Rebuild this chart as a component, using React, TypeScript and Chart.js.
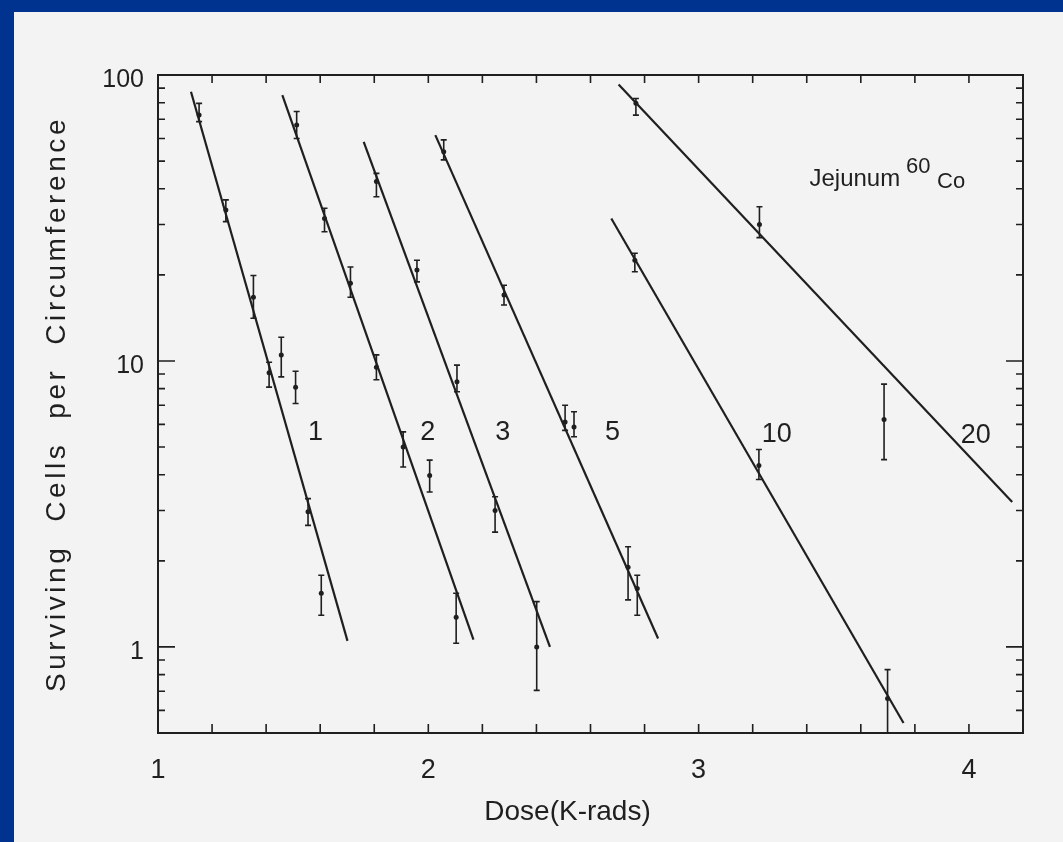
import React, { useEffect, useRef } from "react";
import { Chart, registerables } from "chart.js";

Chart.register(...registerables);

// ---- axes ----
const xMin = 1;
const xMax = 4.2;
const xMinorStep = 0.2;
const yMin = 0.5;
const yMax = 100;
const xTickLabels = [1, 2, 3, 4];
const yTickLabels = [1, 10, 100];
const xTitle = "Dose(K-rads)";
const yTitle = "Surviving  Cells  per  Circumference";

// ---- fitted survival lines (start, end) ----
const fit1X = [1.122, 1.701];
const fit1Y = [87.4, 1.05];
const fit2X = [1.46, 2.167];
const fit2Y = [85.1, 1.06];
const fit3X = [1.761, 2.45];
const fit3Y = [58.4, 1.0];
const fit5X = [2.026, 2.85];
const fit5Y = [61.6, 1.07];
const fit10X = [2.677, 3.758];
const fit10Y = [31.5, 0.542];
const fit20X = [2.704, 4.16];
const fit20Y = [92.7, 3.21];

// ---- measured points with error bars ----
const d1X = [1.152, 1.251, 1.353, 1.411, 1.456, 1.509, 1.555, 1.604];
const d1Y = [72.4, 33.7, 16.7, 9.1, 10.5, 8.1, 2.97, 1.54];
const d1Lo = [68.7, 30.7, 14.1, 8.1, 8.8, 7.1, 2.66, 1.29];
const d1Hi = [79.6, 36.6, 19.9, 9.9, 12.1, 9.2, 3.3, 1.78];

const d2X = [1.513, 1.616, 1.712, 1.808, 1.907, 2.005, 2.103];
const d2Y = [66.8, 31.5, 18.7, 9.5, 5.0, 3.98, 1.27];
const d2Lo = [60.0, 28.3, 16.7, 8.6, 4.26, 3.48, 1.03];
const d2Hi = [74.5, 34.2, 21.3, 10.5, 5.65, 4.5, 1.54];

const d3X = [1.808, 1.958, 2.106, 2.247, 2.401];
const d3Y = [42.4, 20.8, 8.45, 3.0, 1.0];
const d3Lo = [37.5, 18.9, 7.8, 2.52, 0.705];
const d3Hi = [45.3, 22.5, 9.67, 3.35, 1.44];

const d5X = [2.057, 2.28, 2.506, 2.539, 2.739, 2.773];
const d5Y = [53.9, 17.0, 6.12, 5.87, 1.9, 1.6];
const d5Lo = [50.5, 15.7, 5.72, 5.43, 1.46, 1.29];
const d5Hi = [59.3, 18.4, 7.0, 6.64, 2.24, 1.78];

const d10X = [2.764, 3.223, 3.699];
const d10Y = [22.5, 4.31, 0.66];
const d10Lo = [20.5, 3.85, 0.5];
const d10Hi = [23.8, 4.9, 0.833];

const d20X = [2.768, 3.225, 3.686];
const d20Y = [79.6, 30.0, 6.24];
const d20Lo = [72.4, 27.0, 4.52];
const d20Hi = [82.8, 34.6, 8.3];

// ---- curve labels (number of fractions) ----
const curveNames = ["1", "2", "3", "5", "10", "20"];
const curveNameX = [1.583, 1.998, 2.275, 2.681, 3.289, 4.025];
const curveNameY = [5.6, 5.6, 5.6, 5.6, 5.55, 5.5];

// ---- annotation ----
const noteText = "Jejunum";
const noteX = 3.41;
const noteY = 41;
const isoMass = "60";
const isoMassX = 3.767;
const isoMassY = 45.4;
const isoName = "Co";
const isoNameX = 3.882;
const isoNameY = 40.2;

const INK = "#1f1f1f";
const FONT = "'Liberation Sans', Arial, sans-serif";

const decorPlugin = {
  id: "decor",
  afterDatasetsDraw(chart: any) {
    const { ctx, scales } = chart;
    const x = scales.x;
    const y = scales.y;
    ctx.save();
    ctx.strokeStyle = INK;
    ctx.lineWidth = 1.6;
    chart.data.datasets.forEach((ds: any) => {
      if (!ds.errLo) return;
      ds.data.forEach((p: any, i: number) => {
        const px = x.getPixelForValue(p.x);
        const top = Math.max(y.getPixelForValue(ds.errHi[i]), chart.chartArea.top);
        const bot = Math.min(y.getPixelForValue(ds.errLo[i]), chart.chartArea.bottom);
        ctx.beginPath();
        ctx.moveTo(px, top);
        ctx.lineTo(px, bot);
        ctx.moveTo(px - 3, top);
        ctx.lineTo(px + 3, top);
        ctx.moveTo(px - 3, bot);
        ctx.lineTo(px + 3, bot);
        ctx.stroke();
      });
    });
    ctx.restore();
  },
  afterDraw(chart: any) {
    const { ctx, chartArea: a, scales } = chart;
    const x = scales.x;
    const y = scales.y;
    ctx.save();
    // frame
    ctx.strokeStyle = INK;
    ctx.lineWidth = 2;
    ctx.strokeRect(a.left, a.top, a.right - a.left, a.bottom - a.top);
    // x ticks (inward, top and bottom)
    ctx.lineWidth = 1.6;
    const n = Math.round((xMax - xMin) / xMinorStep);
    ctx.beginPath();
    for (let i = 1; i < n; i++) {
      const px = x.getPixelForValue(xMin + i * xMinorStep);
      ctx.moveTo(px, a.bottom);
      ctx.lineTo(px, a.bottom - 9);
      ctx.moveTo(px, a.top);
      ctx.lineTo(px, a.top + 8);
    }
    // y ticks (log, inward, left and right)
    const d0 = Math.floor(Math.log10(yMin));
    const d1 = Math.ceil(Math.log10(yMax));
    for (let d = d0; d <= d1; d++) {
      for (let k = 1; k <= 9; k++) {
        const v = k * Math.pow(10, d);
        if (v <= yMin * 1.0001 || v >= yMax * 0.9999) continue;
        const py = y.getPixelForValue(v);
        const len = k === 1 ? 17 : 7;
        ctx.moveTo(a.left, py);
        ctx.lineTo(a.left + len, py);
        ctx.moveTo(a.right, py);
        ctx.lineTo(a.right - len, py);
      }
    }
    ctx.stroke();

    ctx.fillStyle = INK;
    // curve labels
    ctx.font = `27px ${FONT}`;
    ctx.textAlign = "center";
    ctx.textBaseline = "middle";
    curveNames.forEach((t, i) => {
      ctx.fillText(t, x.getPixelForValue(curveNameX[i]), y.getPixelForValue(curveNameY[i]));
    });
    // annotation
    ctx.textAlign = "left";
    ctx.textBaseline = "alphabetic";
    ctx.font = `24px ${FONT}`;
    ctx.fillText(noteText, x.getPixelForValue(noteX), y.getPixelForValue(noteY));
    ctx.font = `22px ${FONT}`;
    ctx.fillText(isoMass, x.getPixelForValue(isoMassX), y.getPixelForValue(isoMassY));
    ctx.fillText(isoName, x.getPixelForValue(isoNameX), y.getPixelForValue(isoNameY));

    // x title
    ctx.font = `28px ${FONT}`;
    ctx.textAlign = "center";
    ctx.textBaseline = "middle";
    ctx.fillText(xTitle, x.getPixelForValue(2.515), a.bottom + 79);

    // y title
    ctx.save();
    ctx.translate(a.left - 101, (a.top + a.bottom) / 2);
    ctx.rotate(-Math.PI / 2);
    ctx.font = `28px ${FONT}`;
    (ctx as any).letterSpacing = "3.6px";
    ctx.fillText(yTitle, 0, 0);
    ctx.restore();

    ctx.restore();
  },
};

export default function App() {
  const ref = useRef<HTMLCanvasElement>(null);
  useEffect(() => {
    document.body.style.margin = "0";
    const canvas = ref.current;
    if (!canvas) return;
    const fits = [
      [fit1X, fit1Y],
      [fit2X, fit2Y],
      [fit3X, fit3Y],
      [fit5X, fit5Y],
      [fit10X, fit10Y],
      [fit20X, fit20Y],
    ];
    const pts = [
      [d1X, d1Y, d1Lo, d1Hi],
      [d2X, d2Y, d2Lo, d2Hi],
      [d3X, d3Y, d3Lo, d3Hi],
      [d5X, d5Y, d5Lo, d5Hi],
      [d10X, d10Y, d10Lo, d10Hi],
      [d20X, d20Y, d20Lo, d20Hi],
    ];
    const datasets: any[] = [];
    fits.forEach(([xs, ys]) => {
      datasets.push({
        data: xs.map((v, i) => ({ x: v, y: ys[i] })),
        showLine: true,
        borderColor: INK,
        borderWidth: 2.2,
        pointRadius: 0,
        fill: false,
      });
    });
    pts.forEach(([xs, ys, lo, hi]) => {
      datasets.push({
        data: xs.map((v, i) => ({ x: v, y: ys[i] })),
        errLo: lo,
        errHi: hi,
        showLine: false,
        pointRadius: 2.5,
        pointBackgroundColor: INK,
        pointBorderWidth: 0,
      });
    });

    const chart = new Chart(canvas, {
      type: "scatter",
      data: { datasets },
      options: {
        animation: false,
        responsive: false,
        events: [],
        layout: { padding: { top: 63, right: 40, left: 0, bottom: 0 } },
        plugins: { legend: { display: false }, tooltip: { enabled: false } },
        scales: {
          x: {
            type: "linear",
            min: xMin,
            max: xMax,
            afterBuildTicks: (s: any) => {
              s.ticks = xTickLabels.map((v) => ({ value: v }));
            },
            afterFit: (s: any) => {
              s.height = 109;
            },
            grid: { display: false, drawTicks: false },
            border: { display: false },
            ticks: {
              autoSkip: false,
              maxRotation: 0,
              padding: 21,
              color: INK,
              font: { family: FONT, size: 27 },
              callback: (v: any) => String(v),
            },
          },
          y: {
            type: "logarithmic",
            min: yMin,
            max: yMax,
            afterBuildTicks: (s: any) => {
              s.ticks = yTickLabels.map((v) => ({ value: v }));
            },
            afterFit: (s: any) => {
              s.width = 144;
            },
            grid: { display: false, drawTicks: false },
            border: { display: false },
            ticks: {
              autoSkip: false,
              padding: 14,
              labelOffset: 5,
              color: INK,
              font: { family: FONT, size: 25 },
              callback: (v: any) => String(v),
            },
          },
        },
      },
      plugins: [decorPlugin],
    } as any);
    return () => chart.destroy();
  }, []);

  return (
    <div style={{ position: "fixed", inset: 0, background: "#00338f" }}>
      <div
        style={{
          position: "absolute",
          left: 14,
          top: 12,
          width: 1049,
          height: 830,
          background: "#f3f3f3",
        }}
      >
        <canvas ref={ref} width={1049} height={830} style={{ display: "block" }} />
      </div>
    </div>
  );
}
